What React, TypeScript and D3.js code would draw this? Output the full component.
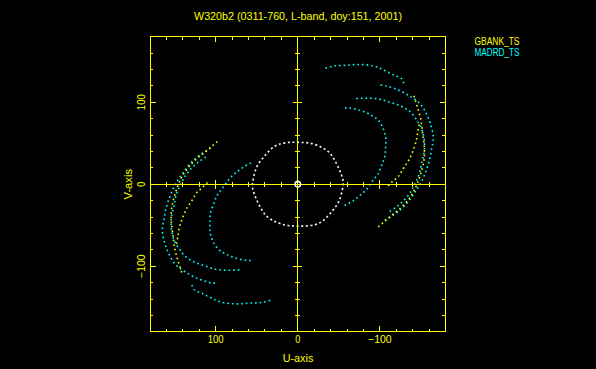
import * as d3 from "d3";

// uv coverage plot, values in the same units as the axes
// each arc is one half of a baseline track; its conjugate (-u,-v) is drawn too

const title = "W320b2 (0311-760, L-band, doy:151, 2001)";
const legendNames = ["GBANK_TS", "MADRD_TS"];
const tickLabels = [100, 0, -100];

// GBANK_TS (yellow)
const gbankOuter: [number, number][] = [
  [98, 52], [105, 46], [113, 39], [122, 32], [132, 22], [140, 11], [146, -2],
  [151, -17], [154, -32], [154, -46], [152, -62], [150, -78], [146, -93], [141, -109],
];
const gbankInner: [number, number][] = [
  [110, 2], [116, -4], [123, -10], [129, -20], [135, -29], [140, -40],
  [144, -52], [146, -63], [148, -74],
];

// MADRD_TS (cyan)
const madrdOuter: [number, number][] = [
  [106, 44], [116, 38], [124, 32], [133, 23], [141, 12], [149, 0], [155, -13],
  [160, -28], [163, -43], [165, -57], [162, -72], [157, -85], [149, -98],
  [137, -107], [122, -115], [107, -120], [99, -121],
];
const madrdMiddle: [number, number][] = [
  [112, 33], [121, 27], [129, 20], [137, 10], [143, -1], [148, -13], [151, -27],
  [154, -40], [154, -54], [151, -67], [145, -78], [137, -88], [126, -95],
  [112, -100], [98, -104], [83, -105], [67, -104],
];
const madrdInner: [number, number][] = [
  [57, 26], [66, 21], [74, 15], [83, 7], [91, -4], [98, -13], [102, -23],
  [106, -34], [107, -46], [107, -57], [104, -68], [98, -78], [88, -85],
  [76, -90], [62, -93], [55, -93],
];
const madrdBottom: [number, number][] = [
  [129, -123], [126, -129], [117, -133], [105, -139], [93, -144], [74, -146],
  [59, -145], [43, -144], [32, -141],
];

// white baselines
const ringHalf: [number, number][] = [
  [55, 2], [50, 21], [40, 35], [30, 45], [22, 49], [10, 51], [-2, 51],
  [-15, 50], [-29, 45], [-39, 38], [-45, 29], [-51, 17], [-55, 5],
];
const shortHalf: [number, number][] = [[3.5, 0], [2.5, 2.5], [0, 3.5], [-2.5, 2.5], [-3.5, 0]];

const YELLOW = "#ffff00";
const CYAN = "#00ffff";
const WHITE = "#ffffff";

const conj = (pts: [number, number][]) => pts.map(([u, v]) => [-u, -v] as [number, number]);

export default function App() {
  const W = 596, H = 369;
  const x = d3.scaleLinear().domain([180, -180]).range([150, 445.6]);
  const y = d3.scaleLinear().domain([180, -180]).range([36.6, 331.8]);

  const line = d3.line<[number, number]>()
    .x(d => x(d[0]))
    .y(d => y(d[1]))
    .curve(d3.curveCatmullRom.alpha(0.5));
  const closed = d3.line<[number, number]>()
    .x(d => x(d[0]))
    .y(d => y(d[1]))
    .curve(d3.curveCatmullRomClosed.alpha(0.5));

  const arcs = [
    { pts: madrdOuter, color: CYAN },
    { pts: madrdMiddle, color: CYAN },
    { pts: madrdInner, color: CYAN },
    { pts: madrdBottom, color: CYAN },
    { pts: gbankOuter, color: YELLOW },
    { pts: gbankInner, color: YELLOW },
  ];

  const ticks = d3.range(-160, 161, 20);
  const x0 = x(0), y0 = y(0);
  const [L, R] = x.range();
  const [T, B] = y.range();
  const font = "'Liberation Sans', Arial, sans-serif";
  const fmt = (t: number) => (t < 0 ? "\u2212" + -t : String(t));
  const labelLen = (t: number) => (t === 0 ? 5 : t < 0 ? 23.5 : 16);

  return (
    <svg width={W} height={H} style={{ display: "block", background: "#000" }}>
      <style>{`body{margin:0;background:#000}`}</style>
      <rect x={0} y={0} width={W} height={H} fill="#000" />

      {/* white ring and short baseline */}
      <path d={closed([...ringHalf, ...conj(ringHalf)]) || ""} fill="none" stroke={WHITE}
        strokeWidth={1.6} strokeDasharray="2 2.6" />

      {arcs.map((a, i) => (
        <g key={i}>
          <path d={line(a.pts) || ""} fill="none" stroke={a.color} strokeWidth={1.6} strokeDasharray="1.6 3" />
          <path d={line(conj(a.pts)) || ""} fill="none" stroke={a.color} strokeWidth={1.6} strokeDasharray="1.6 3" />
        </g>
      ))}

      {/* frame */}
      <g stroke={YELLOW} strokeWidth={1} fill="none" shapeRendering="crispEdges">
        <rect x={L} y={T} width={R - L} height={B - T} />
        <line x1={L} x2={R} y1={y0} y2={y0} />
        <line x1={x0} x2={x0} y1={T} y2={B} />
        {ticks.map(t => {
          const major = t % 100 === 0;
          const fl = major ? 5.5 : 3.3;
          const al = major ? 4.5 : 2.5;
          const px = x(t), py = y(t);
          return (
            <g key={t}>
              <line x1={px} x2={px} y1={B} y2={B - fl} />
              <line x1={px} x2={px} y1={T} y2={T + fl} />
              <line x1={L} x2={L + fl} y1={py} y2={py} />
              <line x1={R} x2={R - fl} y1={py} y2={py} />
              <line x1={px} x2={px} y1={y0 - al} y2={y0 + al} />
              <line x1={x0 - al} x2={x0 + al} y1={py} y2={py} />
            </g>
          );
        })}
      </g>

      <path d={closed([...shortHalf, ...conj(shortHalf)]) || ""} fill="none" stroke={WHITE} strokeWidth={1.6} />

      {/* text */}
      <g fontFamily={font} fontSize={10} fill={YELLOW}>
        <text x={298} y={20.2} textAnchor="middle" textLength={208} lengthAdjust="spacingAndGlyphs">{title}</text>
        {tickLabels.map(t => (
          <text key={"x" + t} x={x(t)} y={343.3} textAnchor="middle"
            textLength={labelLen(t)} lengthAdjust="spacingAndGlyphs">{fmt(t)}</text>
        ))}
        {tickLabels.map(t => (
          <text key={"y" + t} transform={`translate(145,${y(t)}) rotate(-90)`} textAnchor="middle"
            textLength={labelLen(t)} lengthAdjust="spacingAndGlyphs">{fmt(t)}</text>
        ))}
        <text x={298} y={362.3} textAnchor="middle" textLength={30.6} lengthAdjust="spacingAndGlyphs">U-axis</text>
        <text transform={`translate(131.7,${y0}) rotate(-90)`} textAnchor="middle"
          textLength={30.6} lengthAdjust="spacingAndGlyphs">V-axis</text>
        <text x={474.5} y={45} fill={YELLOW} textLength={45} lengthAdjust="spacingAndGlyphs">{legendNames[0]}</text>
        <text x={474.5} y={56} fill={CYAN} textLength={45} lengthAdjust="spacingAndGlyphs">{legendNames[1]}</text>
      </g>
    </svg>
  );
}
